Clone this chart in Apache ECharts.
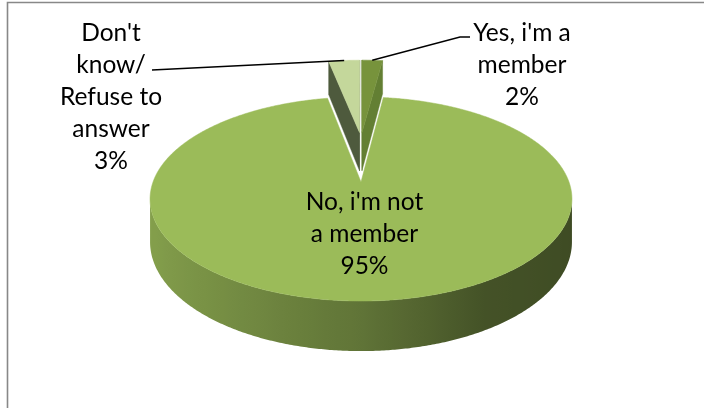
<!DOCTYPE html>
<html>
<head>
<meta charset="utf-8">
<script src="https://cdn.jsdelivr.net/npm/echarts@6/dist/echarts.min.js"></script>
<style>
  html, body { margin: 0; padding: 0; background: #ffffff; }
  #chart { width: 704px; height: 408px; }
</style>
</head>
<body>
<div id="chart"></div>
<script>
// Membership survey: share of answers
const categories = ["Yes, i'm a\nmember", "No, i'm not\na member", "Don't\nknow/\nRefuse to\nanswer"];
const shares = [2, 95, 3];

// Slice styling
const topColors = ['#77933c', '#9bbb59', '#c4d79b'];
const cutColors = ['#637f33', '#6e8a3c', '#4e5a3d'];   // colours of the radial cut faces
const explodeBy = [0.546, 0, 0.546];

// Label placement (outside labels sit left / right of the pie)
const labelBoxes = [
  { x: 522, y: 65, leader: [[460, 37], [470, 37]] },
  null,
  { x: 111, y: 97, leader: [[152, 70]] }
];

// 3D pie camera: perspective on the top disc plus a vertical wall
const CX = 361, CY = 182, AX = 208, BY = 99.2, K = 1 / 6, DEPTH = 41.7;
const SIDE_SHIFT = 0.15;      // sideways part of the explode offset
const CAM = [0, -1 / K];      // camera position in the disc plane

function proj(u, v, z) {
  const w = 1 + K * v;
  return [CX + AX * u / w, CY + (-BY * v + DEPTH * z) / w];
}

function hexToRgb(h) {
  const n = parseInt(h.slice(1), 16);
  return [(n >> 16) & 255, (n >> 8) & 255, n & 255];
}
function shade(hex, f) {
  const c = hexToRgb(hex).map(x => Math.max(0, Math.min(255, Math.round(x * f))));
  return 'rgb(' + c.join(',') + ')';
}
// brightness of the rim depending on which way it faces (u = -1 left ... 1 right)
function rimFactor(u) {
  const pts = [[-1, 0.86], [-0.5, 0.74], [0, 0.62], [0.5, 0.44], [1, 0.40]];
  for (let i = 0; i < pts.length - 1; i++) {
    const [u0, f0] = pts[i], [u1, f1] = pts[i + 1];
    if (u <= u1) {
      const t = Math.max(0, (u - u0) / (u1 - u0));
      return f0 + (f1 - f0) * t;
    }
  }
  return pts[pts.length - 1][1];
}

const total = shares.reduce((a, b) => a + b, 0);
const slices = shares.map((val, i) => {
  const before = shares.slice(0, i).reduce((a, b) => a + b, 0);
  const a0 = before / total * Math.PI * 2;
  const a1 = (before + val) / total * Math.PI * 2;
  const mid = (a0 + a1) / 2;
  const e = explodeBy[i];
  const ox = SIDE_SHIFT * e * Math.sin(mid);
  const oy = e * Math.cos(mid);
  return { a0, a1, mid, ox, oy, depthKey: oy + Math.cos(mid) };
});
// far slices are painted first
const order = slices.map((s, i) => i).sort((a, b) => slices[b].depthKey - slices[a].depthKey);
const rank = [];
order.forEach((idx, r) => { rank[idx] = r; });

function visible(px, py, nx, ny) {
  return (CAM[0] - px) * nx + (CAM[1] - py) * ny > 0;
}

function renderItem(params, api) {
  const i = params.dataIndex;
  const s = slices[i];
  const base = topColors[i];
  const zBase = rank[i] * 10;
  const children = [];
  const steps = Math.max(2, Math.ceil((s.a1 - s.a0) / (Math.PI / 360)));
  const arc = [];
  for (let k = 0; k <= steps; k++) {
    const a = s.a0 + (s.a1 - s.a0) * k / steps;
    arc.push([s.ox + Math.sin(a), s.oy + Math.cos(a), a]);
  }

  // outer rim: one polygon per run of camera-facing facets, lit left to right
  const runs = [];
  let cur = null;
  for (let k = 0; k < steps; k++) {
    const am = (arc[k][2] + arc[k + 1][2]) / 2;
    const nx = Math.sin(am), ny = Math.cos(am);
    if (visible(s.ox + nx, s.oy + ny, nx, ny)) {
      if (!cur) { cur = [k]; runs.push(cur); }
      cur.push(k + 1);
    } else {
      cur = null;
    }
  }
  runs.forEach(run => {
    const top = run.map(k => proj(arc[k][0], arc[k][1], 0));
    const bottom = run.map(k => proj(arc[k][0], arc[k][1], 1)).reverse();
    const xs = top.map(p => p[0]);
    const minX = Math.min.apply(null, xs), maxX = Math.max.apply(null, xs);
    const stops = run
      .map((k, j) => ({ x: top[j][0], f: rimFactor(Math.sin(arc[k][2])) }))
      .sort((a, b) => a.x - b.x)
      .filter((p, j) => j % 6 === 0)
      .map(p => ({ offset: (p.x - minX) / Math.max(1, maxX - minX), color: shade(base, p.f) }));
    children.push({
      type: 'polygon', z2: zBase,
      shape: { points: top.concat(bottom) },
      style: {
        fill: new echarts.graphic.LinearGradient(0, 0, 1, 0, stops)
      }
    });
  });

  // radial cut faces
  const cuts = [
    { a: s.a0, n: [-Math.cos(s.a0), Math.sin(s.a0)] },
    { a: s.a1, n: [Math.cos(s.a1), -Math.sin(s.a1)] }
  ];
  cuts.forEach(c => {
    if (!visible(s.ox, s.oy, c.n[0], c.n[1])) return;
    const ex = s.ox + Math.sin(c.a), ey = s.oy + Math.cos(c.a);
    children.push({
      type: 'polygon', z2: zBase + 1,
      shape: { points: [proj(s.ox, s.oy, 0), proj(ex, ey, 0), proj(ex, ey, 1), proj(s.ox, s.oy, 1)] },
      style: { fill: cutColors[i], stroke: cutColors[i], lineWidth: 0.4 }
    });
  });

  // top face
  const topPts = [proj(s.ox, s.oy, 0)].concat(arc.map(p => proj(p[0], p[1], 0)));
  children.push({
    type: 'polygon', z2: zBase + 2,
    shape: { points: topPts },
    style: { fill: base, stroke: base, lineWidth: 0.5 }
  });

  // data label
  const text = categories[i] + '\n' + api.value(0) + '%';
  const textStyle = {
    text: text, fill: '#000000', font: '24.5px Lato', lineHeight: 32,
    align: 'center', verticalAlign: 'middle'
  };
  const box = labelBoxes[i];
  if (box) {
    const anchor = proj(s.ox + Math.sin(s.mid), s.oy + Math.cos(s.mid), 0);
    children.push({
      type: 'polyline', z2: 90,
      shape: { points: [anchor].concat(box.leader) },
      style: { stroke: '#000000', lineWidth: 1.3, fill: null }
    });
    children.push({ type: 'text', z2: 100, x: box.x, y: box.y, style: textStyle });
  } else {
    const r = 0.486;
    const p = proj(s.ox + r * Math.sin(s.mid), s.oy + r * Math.cos(s.mid), 0);
    children.push({ type: 'text', z2: 100, x: p[0], y: p[1], style: textStyle });
  }
  return { type: 'group', children: children };
}

const chart = echarts.init(document.getElementById('chart'), null, { renderer: 'canvas' });
chart.setOption({
  backgroundColor: '#ffffff',
  animation: false,
  graphic: [{
    type: 'rect', silent: true, z: -1,
    shape: { x: 7.5, y: 2.5, width: 900, height: 600 },
    style: { fill: null, stroke: '#888888', lineWidth: 1.6 }
  }],
  series: [{
    type: 'custom',
    coordinateSystem: 'none',
    silent: true,
    renderItem: renderItem,
    data: shares.map((v, i) => ({ name: categories[i], value: [v] }))
  }]
});
</script>
</body>
</html>
